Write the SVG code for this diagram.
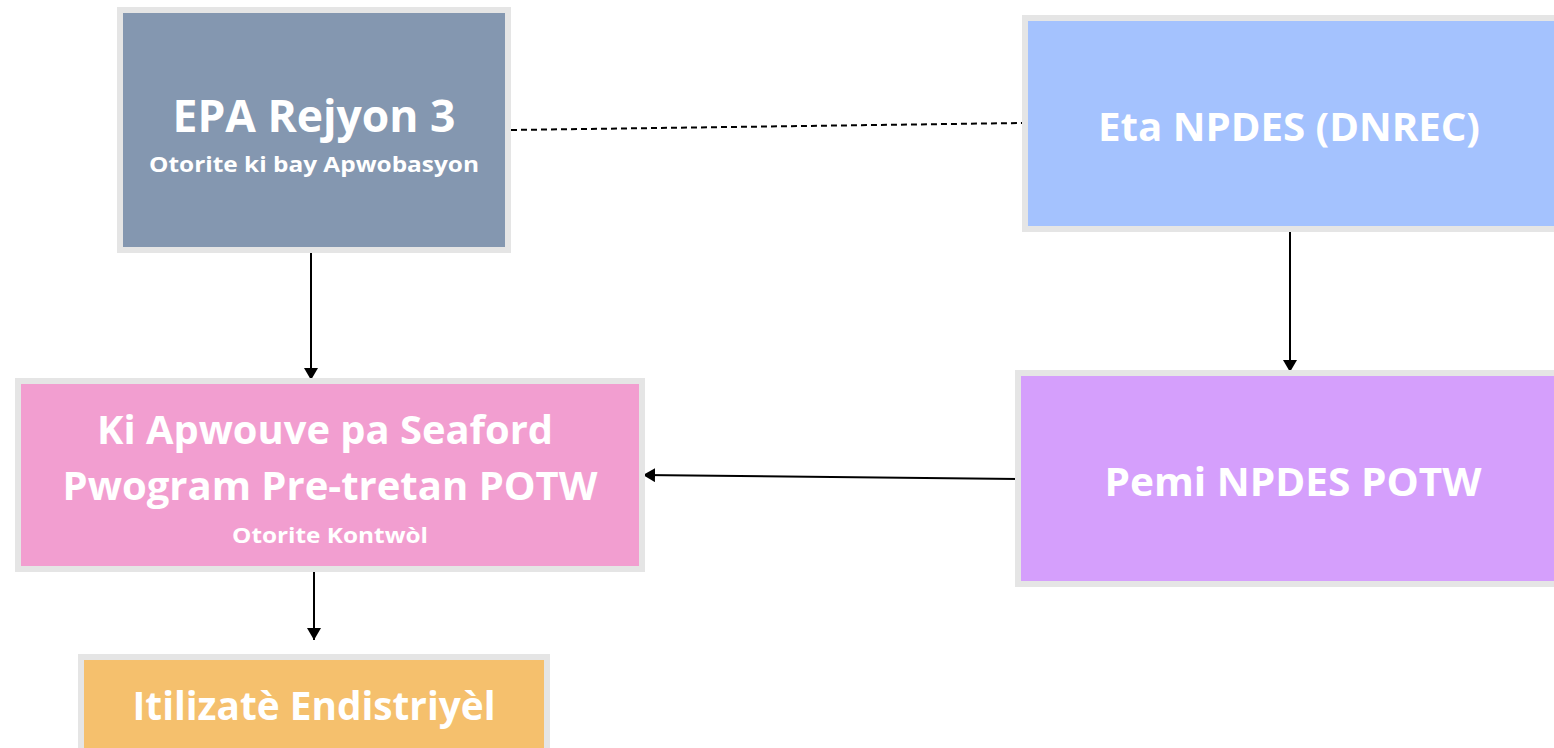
<svg xmlns="http://www.w3.org/2000/svg" width="1554" height="748" viewBox="0 0 1554 748">
<style>
.box{stroke:#e5e5e5;stroke-width:6}
.t{font-family:"Open Sans","Liberation Sans",sans-serif;font-weight:bold;fill:#ffffff;text-anchor:middle}
.c{stroke:#000;stroke-width:2;fill:none}
</style>
<defs>
<marker id="ah" markerWidth="12" markerHeight="14" refX="12" refY="7" orient="auto" markerUnits="userSpaceOnUse">
<path d="M0,0 L12,7 L0,14 Z" fill="#000"/>
</marker>
</defs>
<rect width="1554" height="748" fill="#ffffff"/>
<g id="connectors">
<line class="c" x1="511" y1="130" x2="1022" y2="123" stroke-dasharray="6,4" stroke-width="1.5"/>
<line class="c" x1="311" y1="253" x2="311" y2="380" marker-end="url(#ah)"/>
<line class="c" x1="1290" y1="222" x2="1290" y2="372" marker-end="url(#ah)"/>
<line class="c" x1="1018" y1="479" x2="643" y2="475" stroke-width="1.5" marker-end="url(#ah)"/>
<line class="c" x1="314" y1="572" x2="314" y2="640" marker-end="url(#ah)"/>
</g>
<g id="epa">
<rect class="box" x="120" y="10" width="388" height="240" fill="#8497b0"/>
<text class="t" x="314" y="132" font-size="44" textLength="283" lengthAdjust="spacingAndGlyphs">EPA Rejyon 3</text>
<text class="t" x="314" y="172" font-size="22" textLength="330" lengthAdjust="spacingAndGlyphs">Otorite ki bay Apwobasyon</text>
</g>
<g id="eta">
<rect class="box" x="1025" y="18" width="535" height="211" fill="#a4c2fe"/>
<text class="t" x="1289" y="141" font-size="40" textLength="382" lengthAdjust="spacingAndGlyphs">Eta NPDES (DNREC)</text>
</g>
<g id="ki">
<rect class="box" x="18" y="381" width="624" height="188" fill="#f29ed0"/>
<text class="t" x="325" y="444" font-size="40" textLength="456" lengthAdjust="spacingAndGlyphs">Ki Apwouve pa Seaford</text>
<text class="t" x="330" y="500" font-size="40" textLength="535" lengthAdjust="spacingAndGlyphs">Pwogram Pre-tretan POTW</text>
<text class="t" x="330" y="543" font-size="22" textLength="196" lengthAdjust="spacingAndGlyphs">Otorite Kontwòl</text>
</g>
<g id="pemi">
<rect class="box" x="1018" y="373" width="545" height="211" fill="#d59ffc"/>
<text class="t" x="1293" y="496" font-size="40" textLength="377" lengthAdjust="spacingAndGlyphs">Pemi NPDES POTW</text>
</g>
<g id="itilizate">
<rect class="box" x="81" y="657" width="466" height="100" fill="#f5c06d"/>
<text class="t" x="314" y="720" font-size="40" textLength="363" lengthAdjust="spacingAndGlyphs">Itilizatè Endistriyèl</text>
</g>
</svg>
